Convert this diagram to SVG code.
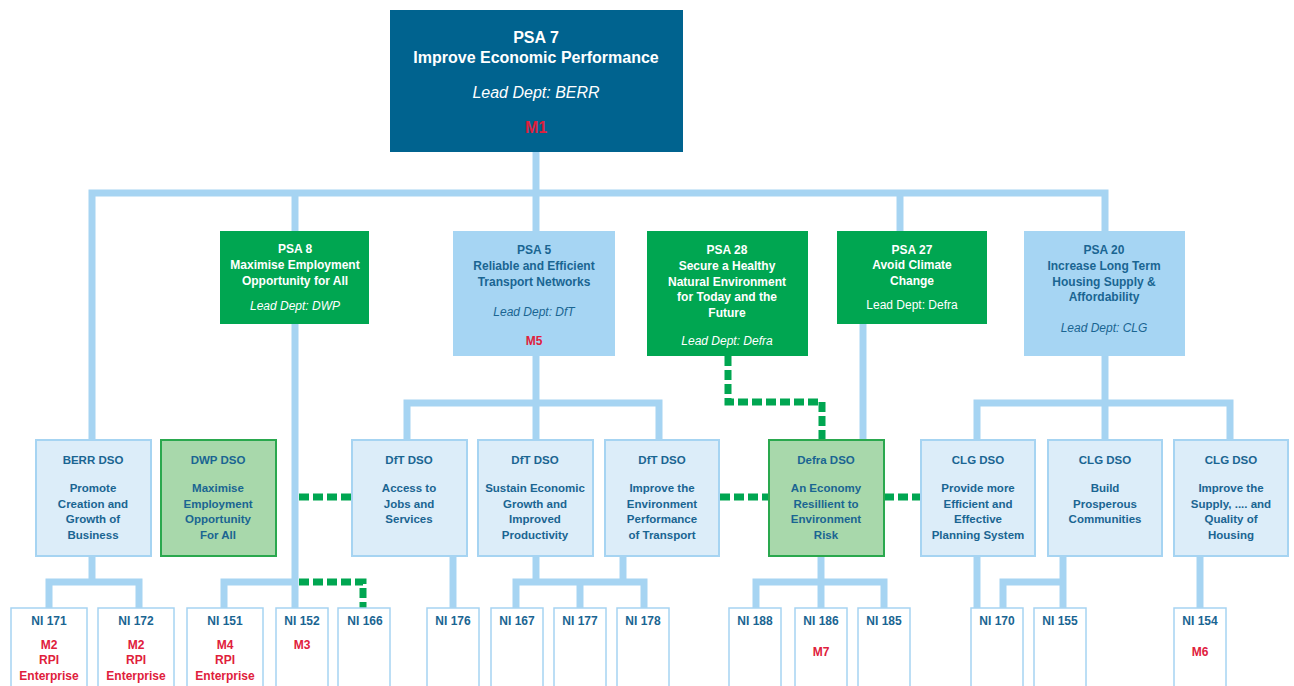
<svg xmlns="http://www.w3.org/2000/svg" width="1294" height="686" viewBox="0 0 1294 686">
<style>
text{font-family:"Liberation Sans",Arial,sans-serif;text-anchor:middle;font-weight:bold}
.conn{fill:none;stroke:#a6d4f2;stroke-width:7;stroke-linejoin:miter}
.dash{fill:none;stroke:#00a651;stroke-width:7;stroke-dasharray:10 4}
.dark{fill:#00638f}
.lb{fill:#a6d5f3}
.gr{fill:#00a651}
.l3{fill:#dcedf9;stroke:#a6d4f2;stroke-width:2}
.l3g{fill:#a8d8ab;stroke:#2aa84e;stroke-width:2}
.ni{fill:#ffffff;stroke:#a6d4f2;stroke-width:1.5}
.w{fill:#ffffff}
.b{fill:#1a6592}
.r{fill:#e0203c}
.t16{font-size:16px}
.t12{font-size:12px}
.t11{font-size:11.5px}
.it{font-style:italic;font-weight:normal}
.nb{font-weight:normal}
</style>
<rect width="1294" height="686" fill="#ffffff"/>
<g id="connectors">
<polyline class="conn" points="536,152 536,231"/>
<polyline class="conn" points="92,440 92,193 1105,193 1105,231"/>
<polyline class="conn" points="295,193 295,231"/>
<polyline class="conn" points="900,193 900,231"/>
<polyline class="conn" points="295,324 295,608"/>
<polyline class="conn" points="536,356 536,440"/>
<polyline class="conn" points="407,440 407,403 659,403 659,440"/>
<polyline class="conn" points="863,324 863,440"/>
<polyline class="conn" points="1105,356 1105,440"/>
<polyline class="conn" points="977,440 977,403 1230,403 1230,440"/>
<polyline class="conn" points="92,556 92,582"/>
<polyline class="conn" points="49,608 49,582 139,582 139,608"/>
<polyline class="conn" points="224,608 224,582 295,582"/>
<polyline class="conn" points="453,556 453,608"/>
<polyline class="conn" points="536,556 536,582"/>
<polyline class="conn" points="623,556 623,582"/>
<polyline class="conn" points="516,608 516,582 644,582 644,608"/>
<polyline class="conn" points="580,582 580,608"/>
<polyline class="conn" points="821,556 821,608"/>
<polyline class="conn" points="756,608 756,582 884,582 884,608"/>
<polyline class="conn" points="977,556 977,608"/>
<polyline class="conn" points="1063,556 1063,608"/>
<polyline class="conn" points="1003,608 1003,582 1063,582"/>
<polyline class="conn" points="1200,556 1200,608"/>
<polyline class="dash" points="299,497 352,497"/>
<polyline class="dash" points="720,497 769,497"/>
<polyline class="dash" points="884,497 921,497"/>
<polyline class="dash" points="728,356 728,402 822,402 822,440"/>
<polyline class="dash" points="299,582 363,582 363,608"/>
</g>
<g id="psa7">
<rect class="dark" x="390" y="10" width="293" height="142"/>
<text class="t16 w" x="536" y="43">PSA 7</text>
<text class="t16 w" x="536" y="63">Improve Economic Performance</text>
<text class="t16 w it" x="536" y="98">Lead Dept: BERR</text>
<text class="t16 r" x="536" y="133">M1</text>
</g>
<g id="psa8">
<rect class="gr" x="220" y="231" width="149" height="93"/>
<text class="t12 w" x="295" y="253">PSA 8</text>
<text class="t12 w" x="295" y="269">Maximise Employment</text>
<text class="t12 w" x="295" y="285">Opportunity for All</text>
<text class="t12 w it" x="295" y="310">Lead Dept: DWP</text>
</g>
<g id="psa5">
<rect class="lb" x="453" y="231" width="162" height="125"/>
<text class="t12 b" x="534" y="254">PSA 5</text>
<text class="t12 b" x="534" y="270">Reliable and Efficient</text>
<text class="t12 b" x="534" y="286">Transport Networks</text>
<text class="t12 b it" x="534" y="316">Lead Dept: DfT</text>
<text class="t12 r" x="534" y="345">M5</text>
</g>
<g id="psa28">
<rect class="gr" x="647" y="231" width="161" height="125"/>
<text class="t12 w" x="727" y="254">PSA 28</text>
<text class="t12 w" x="727" y="270">Secure a Healthy</text>
<text class="t12 w" x="727" y="286">Natural Environment</text>
<text class="t12 w" x="727" y="301">for Today and the</text>
<text class="t12 w" x="727" y="317">Future</text>
<text class="t12 w it" x="727" y="345">Lead Dept: Defra</text>
</g>
<g id="psa27">
<rect class="gr" x="837" y="231" width="150" height="93"/>
<text class="t12 w" x="912" y="254">PSA 27</text>
<text class="t12 w" x="912" y="269">Avoid Climate</text>
<text class="t12 w" x="912" y="285">Change</text>
<text class="t12 w nb" x="912" y="309">Lead Dept: Defra</text>
</g>
<g id="psa20">
<rect class="lb" x="1024" y="231" width="161" height="125"/>
<text class="t12 b" x="1104" y="254">PSA 20</text>
<text class="t12 b" x="1104" y="270">Increase Long Term</text>
<text class="t12 b" x="1104" y="286">Housing Supply &amp;</text>
<text class="t12 b" x="1104" y="301">Affordability</text>
<text class="t12 b it" x="1104" y="332">Lead Dept: CLG</text>
</g>
<g id="berr-dso">
<rect class="l3" x="36" y="440" width="115" height="116"/>
<text class="t11 b" x="93" y="464">BERR DSO</text>
<text class="t11 b" x="93" y="492">Promote</text>
<text class="t11 b" x="93" y="508">Creation and</text>
<text class="t11 b" x="93" y="523">Growth of</text>
<text class="t11 b" x="93" y="539">Business</text>
</g>
<g id="dwp-dso">
<rect class="l3g" x="161" y="440" width="115" height="116"/>
<text class="t11 b" x="218" y="464">DWP DSO</text>
<text class="t11 b" x="218" y="492">Maximise</text>
<text class="t11 b" x="218" y="508">Employment</text>
<text class="t11 b" x="218" y="523">Opportunity</text>
<text class="t11 b" x="218" y="539">For All</text>
</g>
<g id="dft-dso-1">
<rect class="l3" x="352" y="440" width="115" height="116"/>
<text class="t11 b" x="409" y="464">DfT DSO</text>
<text class="t11 b" x="409" y="492">Access to</text>
<text class="t11 b" x="409" y="508">Jobs and</text>
<text class="t11 b" x="409" y="523">Services</text>
</g>
<g id="dft-dso-2">
<rect class="l3" x="478" y="440" width="115" height="116"/>
<text class="t11 b" x="535" y="464">DfT DSO</text>
<text class="t11 b" x="535" y="492">Sustain Economic</text>
<text class="t11 b" x="535" y="508">Growth and</text>
<text class="t11 b" x="535" y="523">Improved</text>
<text class="t11 b" x="535" y="539">Productivity</text>
</g>
<g id="dft-dso-3">
<rect class="l3" x="605" y="440" width="114" height="116"/>
<text class="t11 b" x="662" y="464">DfT DSO</text>
<text class="t11 b" x="662" y="492">Improve the</text>
<text class="t11 b" x="662" y="508">Environment</text>
<text class="t11 b" x="662" y="523">Performance</text>
<text class="t11 b" x="662" y="539">of Transport</text>
</g>
<g id="defra-dso">
<rect class="l3g" x="769" y="440" width="115" height="116"/>
<text class="t11 b" x="826" y="464">Defra DSO</text>
<text class="t11 b" x="826" y="492">An Economy</text>
<text class="t11 b" x="826" y="508">Resillient to</text>
<text class="t11 b" x="826" y="523">Environment</text>
<text class="t11 b" x="826" y="539">Risk</text>
</g>
<g id="clg-dso-1">
<rect class="l3" x="921" y="440" width="114" height="116"/>
<text class="t11 b" x="978" y="464">CLG DSO</text>
<text class="t11 b" x="978" y="492">Provide more</text>
<text class="t11 b" x="978" y="508">Efficient and</text>
<text class="t11 b" x="978" y="523">Effective</text>
<text class="t11 b" x="978" y="539">Planning System</text>
</g>
<g id="clg-dso-2">
<rect class="l3" x="1048" y="440" width="114" height="116"/>
<text class="t11 b" x="1105" y="464">CLG DSO</text>
<text class="t11 b" x="1105" y="492">Build</text>
<text class="t11 b" x="1105" y="508">Prosperous</text>
<text class="t11 b" x="1105" y="523">Communities</text>
</g>
<g id="clg-dso-3">
<rect class="l3" x="1174" y="440" width="114" height="116"/>
<text class="t11 b" x="1231" y="464">CLG DSO</text>
<text class="t11 b" x="1231" y="492">Improve the</text>
<text class="t11 b" x="1231" y="508">Supply, .... and</text>
<text class="t11 b" x="1231" y="523">Quality of</text>
<text class="t11 b" x="1231" y="539">Housing</text>
</g>
<g id="ni171">
<rect class="ni" x="11" y="608" width="76" height="90"/>
<text class="t12 b" x="49" y="625">NI 171</text>
<text class="t12 r" x="49" y="649">M2</text>
<text class="t12 r" x="49" y="664">RPI</text>
<text class="t12 r" x="49" y="680">Enterprise</text>
</g>
<g id="ni172">
<rect class="ni" x="98" y="608" width="76" height="90"/>
<text class="t12 b" x="136" y="625">NI 172</text>
<text class="t12 r" x="136" y="649">M2</text>
<text class="t12 r" x="136" y="664">RPI</text>
<text class="t12 r" x="136" y="680">Enterprise</text>
</g>
<g id="ni151">
<rect class="ni" x="187" y="608" width="76" height="90"/>
<text class="t12 b" x="225" y="625">NI 151</text>
<text class="t12 r" x="225" y="649">M4</text>
<text class="t12 r" x="225" y="664">RPI</text>
<text class="t12 r" x="225" y="680">Enterprise</text>
</g>
<g id="ni152">
<rect class="ni" x="276" y="608" width="52" height="90"/>
<text class="t12 b" x="302" y="625">NI 152</text>
<text class="t12 r" x="302" y="649">M3</text>
</g>
<g id="ni166">
<rect class="ni" x="338" y="608" width="52" height="90"/>
<text class="t12 b" x="365" y="625">NI 166</text>
</g>
<g id="ni176">
<rect class="ni" x="427" y="608" width="52" height="90"/>
<text class="t12 b" x="453" y="625">NI 176</text>
</g>
<g id="ni167">
<rect class="ni" x="491" y="608" width="52" height="90"/>
<text class="t12 b" x="517" y="625">NI 167</text>
</g>
<g id="ni177">
<rect class="ni" x="554" y="608" width="52" height="90"/>
<text class="t12 b" x="580" y="625">NI 177</text>
</g>
<g id="ni178">
<rect class="ni" x="617" y="608" width="52" height="90"/>
<text class="t12 b" x="643" y="625">NI 178</text>
</g>
<g id="ni188">
<rect class="ni" x="729" y="608" width="52" height="90"/>
<text class="t12 b" x="755" y="625">NI 188</text>
</g>
<g id="ni186">
<rect class="ni" x="795" y="608" width="52" height="90"/>
<text class="t12 b" x="821" y="625">NI 186</text>
<text class="t12 r" x="821" y="656">M7</text>
</g>
<g id="ni185">
<rect class="ni" x="858" y="608" width="52" height="90"/>
<text class="t12 b" x="884" y="625">NI 185</text>
</g>
<g id="ni170">
<rect class="ni" x="971" y="608" width="52" height="90"/>
<text class="t12 b" x="997" y="625">NI 170</text>
</g>
<g id="ni155">
<rect class="ni" x="1034" y="608" width="52" height="90"/>
<text class="t12 b" x="1060" y="625">NI 155</text>
</g>
<g id="ni154">
<rect class="ni" x="1174" y="608" width="52" height="90"/>
<text class="t12 b" x="1200" y="625">NI 154</text>
<text class="t12 r" x="1200" y="656">M6</text>
</g>
</svg>
